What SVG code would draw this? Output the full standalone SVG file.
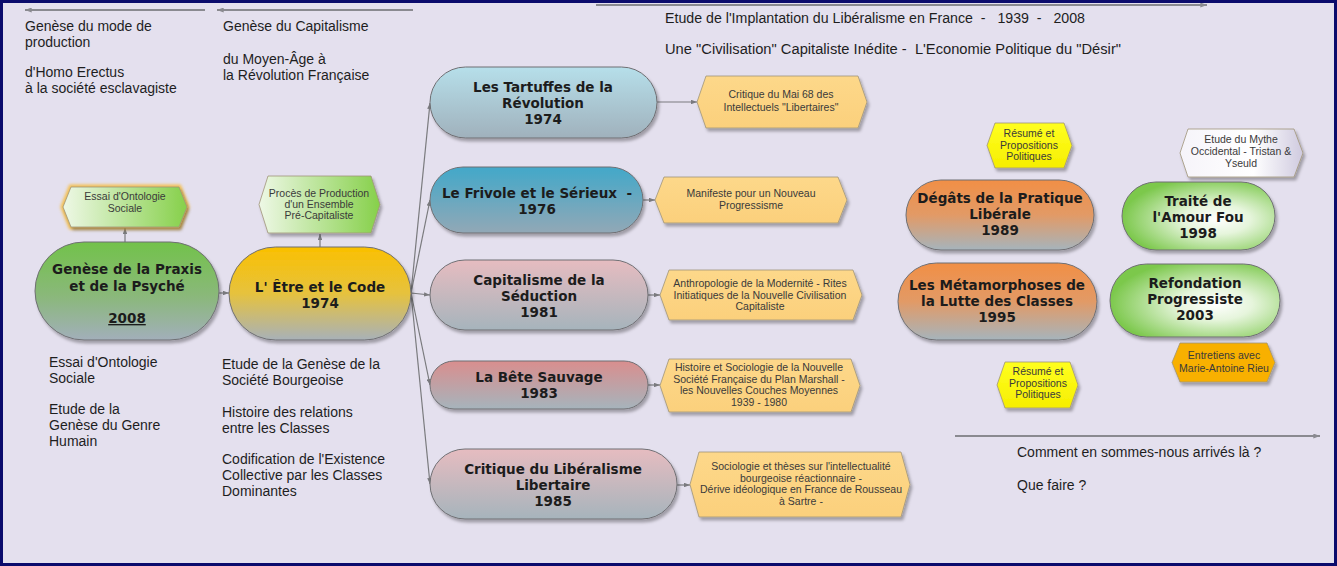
<svg xmlns="http://www.w3.org/2000/svg" width="1337" height="566" viewBox="0 0 1337 566">
<style>
.pill{stroke:#6f6f73;stroke-width:1;filter:url(#sh)}
.tag{stroke:#a09478;stroke-width:0.8;filter:url(#sh)}
.nt{font-family:"DejaVu Sans",Verdana,sans-serif;font-weight:bold;font-size:13.5px;fill:#1c1c1c;text-anchor:middle;white-space:pre}
.tt{font-family:"Liberation Sans",Arial,sans-serif;font-size:10.5px;fill:#3a3a3a;text-anchor:middle}
.lt{font-family:"Liberation Sans",Arial,sans-serif;font-size:14px;fill:#1e1e1e}
.top{font-family:"Liberation Sans Narrow","Liberation Sans",Arial,sans-serif;font-size:14px;fill:#1e1e1e;white-space:pre}
.cn{stroke:#7a7a7e;stroke-width:1.2;fill:none;marker-end:url(#ar)}
.rule{stroke:#8a8a90;stroke-width:2;fill:none;marker-end:url(#ar2)}
</style>
<defs>
<filter id="sh" x="-10%" y="-15%" width="125%" height="140%">
<feDropShadow dx="2" dy="3" stdDeviation="1.5" flood-color="#000" flood-opacity="0.3"/>
</filter>
<filter id="glow" x="-20%" y="-30%" width="140%" height="160%">
<feGaussianBlur stdDeviation="1.8"/>
</filter>
<marker id="ar" viewBox="0 0 8 6" refX="8" refY="3" markerWidth="6" markerHeight="4.5" orient="auto" markerUnits="userSpaceOnUse">
<path d="M0,0 L8,3 L0,6 z" fill="#7a7a7e"/>
</marker>
<marker id="ar2" viewBox="0 0 8 6" refX="8" refY="3" markerWidth="7" markerHeight="5" orient="auto" markerUnits="userSpaceOnUse">
<path d="M0,0 L8,3 L0,6 z" fill="#8a8a90"/>
</marker>
<linearGradient id="gPraxis" x1="0" y1="0" x2="0" y2="1">
<stop offset="0" stop-color="#72c24a"/><stop offset="0.55" stop-color="#8ab87a"/><stop offset="1" stop-color="#a2afba"/>
</linearGradient>
<linearGradient id="gEtre" x1="0" y1="0" x2="0" y2="1">
<stop offset="0" stop-color="#fac000"/><stop offset="0.5" stop-color="#e6c23e"/><stop offset="1" stop-color="#a8b1b8"/>
</linearGradient>
<linearGradient id="gTart" x1="0" y1="0" x2="0" y2="1">
<stop offset="0" stop-color="#b6dfea"/><stop offset="1" stop-color="#a0b1bc"/>
</linearGradient>
<linearGradient id="gFriv" x1="0" y1="0" x2="0" y2="1">
<stop offset="0" stop-color="#42a8c9"/><stop offset="1" stop-color="#92a8b6"/>
</linearGradient>
<linearGradient id="gPink" x1="0" y1="0" x2="0" y2="1">
<stop offset="0" stop-color="#e6bcc0"/><stop offset="1" stop-color="#a6b4bc"/>
</linearGradient>
<linearGradient id="gRed" x1="0" y1="0" x2="0" y2="1">
<stop offset="0" stop-color="#d98e8e"/><stop offset="1" stop-color="#a6b4bc"/>
</linearGradient>
<linearGradient id="gOr" x1="0" y1="0" x2="0" y2="1">
<stop offset="0" stop-color="#f18f46"/><stop offset="0.5" stop-color="#e29a66"/><stop offset="1" stop-color="#a6b4bc"/>
</linearGradient>
<radialGradient id="gLg" cx="0.62" cy="0.55" r="0.62">
<stop offset="0" stop-color="#ffffff"/><stop offset="0.35" stop-color="#e6f5dc"/><stop offset="1" stop-color="#7cc84c"/>
</radialGradient>
<linearGradient id="tGreen" x1="0" y1="0" x2="1" y2="0">
<stop offset="0" stop-color="#eef8e6"/><stop offset="1" stop-color="#86d04a"/>
</linearGradient>
<linearGradient id="tOr" x1="0" y1="0" x2="0" y2="1">
<stop offset="0" stop-color="#fdd88a"/><stop offset="1" stop-color="#fbd07c"/>
</linearGradient>
<linearGradient id="tYel" x1="0" y1="0" x2="0" y2="1">
<stop offset="0" stop-color="#ffff20"/><stop offset="1" stop-color="#f6ee00"/>
</linearGradient>
<linearGradient id="tLav" x1="0" y1="0" x2="1" y2="0">
<stop offset="0" stop-color="#f6f4fa"/><stop offset="0.6" stop-color="#ffffff"/><stop offset="1" stop-color="#cfcadf"/>
</linearGradient>
</defs>

<rect x="0" y="0" width="1337" height="566" fill="#0b0b6c"/>
<rect x="3" y="3" width="1331" height="560" fill="#e4e0ee"/>

<g id="rules">
<line class="rule" x1="205" y1="10" x2="25" y2="10"/>
<line class="rule" x1="413" y1="10" x2="217" y2="10"/>
<line class="rule" x1="596" y1="5" x2="1207" y2="5"/>
<line class="rule" x1="955" y1="436" x2="1320" y2="436"/>
</g>

<g id="texts">
<text class="lt" font-size="13.5"><tspan x="25" y="31">Genèse du mode de</tspan><tspan x="25" y="47">production</tspan><tspan x="25" y="77">d'Homo Erectus</tspan><tspan x="25" y="93">à la société esclavagiste</tspan></text>
<text class="lt" font-size="13.5"><tspan x="223" y="31">Genèse du Capitalisme</tspan><tspan x="223" y="64">du Moyen-Âge à</tspan><tspan x="223" y="80">la Révolution Française</tspan></text>
<text class="top" x="665" y="23" textLength="420" lengthAdjust="spacingAndGlyphs">Etude de l'Implantation du Libéralisme en France  -   1939  -   2008</text>
<text class="top" x="665" y="54" textLength="456" lengthAdjust="spacingAndGlyphs">Une "Civilisation" Capitaliste Inédite -  L'Economie Politique du "Désir"</text>
<text class="lt"><tspan x="49" y="367">Essai d'Ontologie</tspan><tspan x="49" y="383">Sociale</tspan><tspan x="49" y="414">Etude de la</tspan><tspan x="49" y="430">Genèse du Genre</tspan><tspan x="49" y="446">Humain</tspan></text>
<text class="lt"><tspan x="222" y="369">Etude de la Genèse de la</tspan><tspan x="222" y="385">Société Bourgeoise</tspan><tspan x="222" y="417">Histoire des relations</tspan><tspan x="222" y="433">entre les Classes</tspan><tspan x="222" y="464">Codification de l'Existence</tspan><tspan x="222" y="480">Collective par les Classes</tspan><tspan x="222" y="496">Dominantes</tspan></text>
<text class="lt"><tspan x="1017" y="457">Comment en sommes-nous arrivés là ?</tspan><tspan x="1017" y="490">Que faire ?</tspan></text>
</g>

<g id="connectors">
<line class="cn" x1="219" y1="293" x2="229" y2="293"/>
<line class="cn" x1="125" y1="242" x2="125" y2="228"/>
<line class="cn" x1="320" y1="247" x2="320" y2="234"/>
<line class="cn" x1="411" y1="293" x2="430" y2="103"/>
<line class="cn" x1="411" y1="293" x2="430" y2="200"/>
<line class="cn" x1="411" y1="293" x2="430" y2="295"/>
<line class="cn" x1="411" y1="293" x2="430" y2="385"/>
<line class="cn" x1="411" y1="293" x2="430" y2="484"/>
<line class="cn" x1="657" y1="102" x2="697" y2="102"/>
<line class="cn" x1="643" y1="200" x2="655" y2="200"/>
<line class="cn" x1="648" y1="295" x2="660" y2="295"/>
<line class="cn" x1="648" y1="385" x2="660" y2="385"/>
<line class="cn" x1="677" y1="485" x2="690" y2="485"/>
</g>

<g id="tag-essai">
<polygon points="71,187 179,187 187,207 179,227 71,227 63,207" fill="none" stroke="#f4c050" stroke-width="5" filter="url(#glow)"/>
<polygon class="tag" points="71,187 179,187 187,207 179,227 71,227 63,207" fill="url(#tGreen)"/>
<text class="tt"><tspan x="125" y="200">Essai d'Ontologie</tspan><tspan x="125" y="212">Sociale</tspan></text>
</g>
<g id="tag-proces">
<polygon class="tag" points="268,176 371,176 380,204.5 371,233 268,233 259,204.5" fill="url(#tGreen)"/>
<text class="tt"><tspan x="319" y="197">Procès de Production</tspan><tspan x="319" y="208">d'un Ensemble</tspan><tspan x="319" y="219">Pré-Capitaliste</tspan></text>
</g>
<g id="tag-mai68">
<polygon class="tag" points="706,76 858,76 867,102 858,128 706,128 697,102" fill="url(#tOr)"/>
<text class="tt"><tspan x="781" y="98">Critique du Mai 68 des</tspan><tspan x="781" y="111">Intellectuels "Libertaires"</tspan></text>
</g>
<g id="tag-manifeste">
<polygon class="tag" points="664,177 838,177 847,200 838,223 664,223 655,200" fill="url(#tOr)"/>
<text class="tt"><tspan x="751" y="197">Manifeste pour un Nouveau</tspan><tspan x="751" y="209">Progressisme</tspan></text>
</g>
<g id="tag-anthropologie">
<polygon class="tag" points="669,270 853,270 862,295 853,320 669,320 660,295" fill="url(#tOr)"/>
<text class="tt"><tspan x="760" y="287">Anthropologie de la Modernité - Rites</tspan><tspan x="760" y="298.5">Initiatiques de la Nouvelle Civilisation</tspan><tspan x="760" y="310">Capitaliste</tspan></text>
</g>
<g id="tag-histoire">
<polygon class="tag" points="669,359 851,359 860,385.5 851,412 669,412 660,385.5" fill="url(#tOr)"/>
<text class="tt"><tspan x="759" y="371">Histoire et Sociologie de la Nouvelle</tspan><tspan x="759" y="382.5">Société Française du Plan Marshall -</tspan><tspan x="759" y="394">les Nouvelles Couches Moyennes</tspan><tspan x="759" y="405.5">1939 - 1980</tspan></text>
</g>
<g id="tag-sociologie">
<polygon class="tag" points="699,452 901,452 910,484.5 901,517 699,517 690,484.5" fill="url(#tOr)"/>
<text class="tt"><tspan x="801" y="470">Sociologie et thèses sur l'intellectualité</tspan><tspan x="801" y="481.5">bourgeoise réactionnaire -</tspan><tspan x="801" y="493">Dérive idéologique en France de Rousseau</tspan><tspan x="801" y="504.5">à Sartre -</tspan></text>
</g>
<g id="tag-resume1">
<polygon class="tag" points="995,123 1064,123 1072,145.5 1064,168 995,168 987,145.5" fill="url(#tYel)"/>
<text class="tt"><tspan x="1029" y="137">Résumé et</tspan><tspan x="1029" y="148.5">Propositions</tspan><tspan x="1029" y="160">Politiques</tspan></text>
</g>
<g id="tag-mythe">
<polygon class="tag" points="1188,129 1294,129 1303,153 1294,177 1188,177 1180,153" fill="url(#tLav)"/>
<text class="tt" font-size="10"><tspan x="1241" y="143">Etude du Mythe</tspan><tspan x="1241" y="155">Occidental - Tristan &amp;</tspan><tspan x="1241" y="167">Yseuld</tspan></text>
</g>
<g id="tag-resume2">
<polygon class="tag" points="1005,362 1070,362 1078,385 1070,408 1005,408 997,385" fill="url(#tYel)"/>
<text class="tt"><tspan x="1038" y="375">Résumé et</tspan><tspan x="1038" y="386.5">Propositions</tspan><tspan x="1038" y="398">Politiques</tspan></text>
</g>
<g id="tag-entretiens">
<polygon class="tag" points="1180,343 1267,343 1275,362.5 1267,382 1180,382 1172,362.5" fill="#f8b000"/>
<text class="tt"><tspan x="1224" y="359">Entretiens avec</tspan><tspan x="1224" y="372">Marie-Antoine Rieu</tspan></text>
</g>

<g id="node-praxis">
<rect class="pill" x="35" y="242" width="184" height="98" rx="49" fill="url(#gPraxis)"/>
<text class="nt"><tspan x="127" y="274">Genèse de la Praxis</tspan><tspan x="127" y="291">et de la Psyché</tspan><tspan x="127" y="323" text-decoration="underline">2008</tspan></text>
</g>
<g id="node-etre">
<rect class="pill" x="229" y="247" width="182" height="93" rx="46.5" fill="url(#gEtre)"/>
<text class="nt"><tspan x="320" y="292">L' Être et le Code</tspan><tspan x="320" y="308">1974</tspan></text>
</g>
<g id="node-tartuffes">
<rect class="pill" x="430" y="67" width="227" height="71" rx="35.5" fill="url(#gTart)"/>
<text class="nt"><tspan x="543" y="92">Les Tartuffes de la</tspan><tspan x="543" y="108">Révolution</tspan><tspan x="543" y="124">1974</tspan></text>
</g>
<g id="node-frivole">
<rect class="pill" x="430" y="167" width="213" height="66" rx="33" fill="url(#gFriv)"/>
<text class="nt"><tspan x="537" y="198">Le Frivole et le Sérieux  -</tspan><tspan x="537" y="214">1976</tspan></text>
</g>
<g id="node-seduction">
<rect class="pill" x="430" y="260" width="218" height="70" rx="35" fill="url(#gPink)"/>
<text class="nt"><tspan x="539" y="285">Capitalisme de la</tspan><tspan x="539" y="301">Séduction</tspan><tspan x="539" y="317">1981</tspan></text>
</g>
<g id="node-bete">
<rect class="pill" x="430" y="361" width="218" height="48" rx="24" fill="url(#gRed)"/>
<text class="nt"><tspan x="539" y="382">La Bête Sauvage</tspan><tspan x="539" y="398">1983</tspan></text>
</g>
<g id="node-critique">
<rect class="pill" x="430" y="449" width="247" height="70" rx="35" fill="url(#gPink)"/>
<text class="nt"><tspan x="553" y="474">Critique du Libéralisme</tspan><tspan x="553" y="490">Libertaire</tspan><tspan x="553" y="506">1985</tspan></text>
</g>
<g id="node-degats">
<rect class="pill" x="906" y="180" width="188" height="70" rx="35" fill="url(#gOr)"/>
<text class="nt"><tspan x="1000" y="203">Dégâts de la Pratique</tspan><tspan x="1000" y="219">Libérale</tspan><tspan x="1000" y="235">1989</tspan></text>
</g>
<g id="node-traite">
<rect class="pill" x="1122" y="182" width="153" height="68" rx="34" fill="url(#gLg)"/>
<text class="nt"><tspan x="1198" y="206">Traité de</tspan><tspan x="1198" y="222">l'Amour Fou</tspan><tspan x="1198" y="238">1998</tspan></text>
</g>
<g id="node-metamorphoses">
<rect class="pill" x="898" y="263" width="199" height="77" rx="38.5" fill="url(#gOr)"/>
<text class="nt"><tspan x="997" y="290">Les Métamorphoses de</tspan><tspan x="997" y="306">la Lutte des Classes</tspan><tspan x="997" y="322">1995</tspan></text>
</g>
<g id="node-refondation">
<rect class="pill" x="1110" y="264" width="170" height="73" rx="36.5" fill="url(#gLg)"/>
<text class="nt"><tspan x="1195" y="288">Refondation</tspan><tspan x="1195" y="304">Progressiste</tspan><tspan x="1195" y="320">2003</tspan></text>
</g>
</svg>
